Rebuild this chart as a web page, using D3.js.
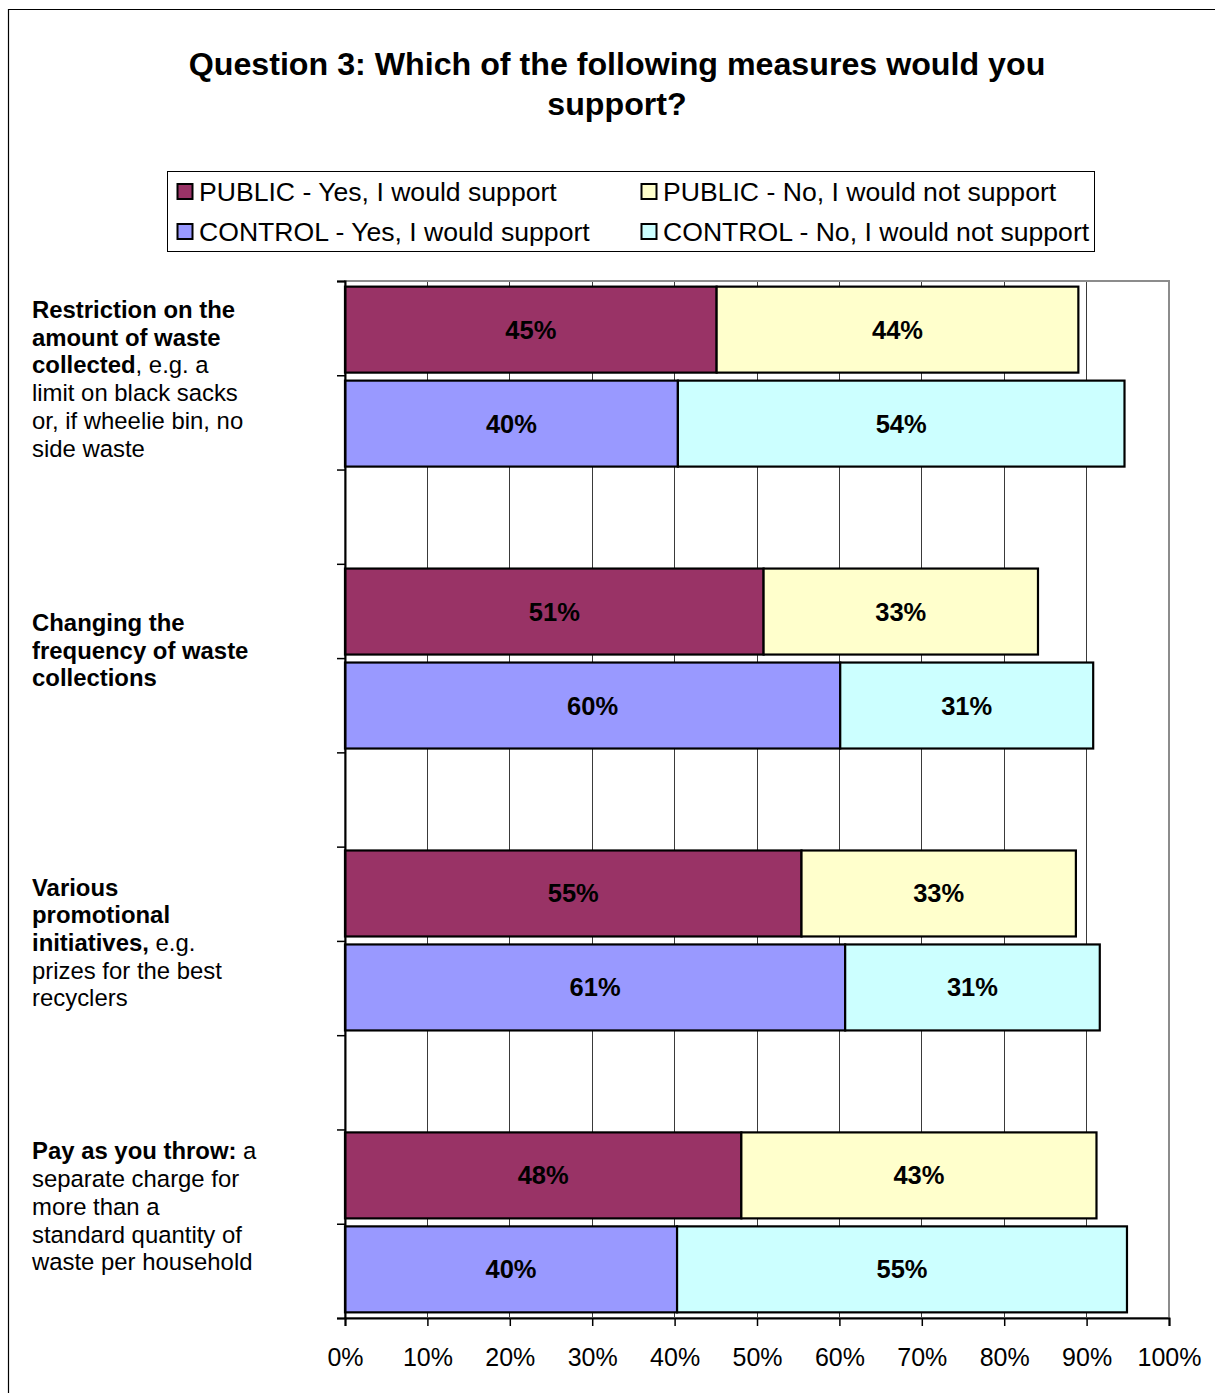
<!DOCTYPE html>
<html>
<head>
<meta charset="utf-8">
<script src="https://cdn.jsdelivr.net/npm/d3@7"></script>
<style>
  html, body { margin: 0; padding: 0; background: #fff; }
  svg { display: block; font-family: "Liberation Sans", Arial, sans-serif; }
</style>
</head>
<body>
<svg id="chart" width="1215" height="1393"></svg>
<script>
// Survey results: support for waste measures, public vs control sample (percent)
const titleLines = ["Question 3: Which of the following measures would you", "support?"];
const groups = ["PUBLIC", "CONTROL"];
const answers = ["Yes, I would support", "No, I would not support"];
const publicYes = [45.1, 50.8, 55.4, 48.1];
const publicNo = [43.9, 33.3, 33.3, 43.1];
const controlYes = [40.4, 60.1, 60.7, 40.3];
const controlNo = [54.2, 30.7, 30.9, 54.6];
const tickValues = [0, 10, 20, 30, 40, 50, 60, 70, 80, 90, 100];
// Category labels as lines of [text, bold] runs
const categoryLines = [
  [[["Restriction on the", true]], [["amount of waste", true]], [["collected", true], [", e.g. a", false]],
   [["limit on black sacks", false]], [["or, if wheelie bin, no", false]], [["side waste", false]]],
  [[["Changing the", true]], [["frequency of waste", true]], [["collections", true]]],
  [[["Various", true]], [["promotional", true]], [["initiatives,", true], [" e.g.", false]],
   [["prizes for the best", false]], [["recyclers", false]]],
  [[["Pay as you throw:", true], [" a", false]], [["separate charge for", false]], [["more than a", false]],
   [["standard quantity of", false]], [["waste per household", false]]]
];

const colors = {
  "PUBLIC|yes": "#993366", "PUBLIC|no": "#FFFFCC",
  "CONTROL|yes": "#9999FF", "CONTROL|no": "#CCFFFF"
};

const svg = d3.select("#chart");
const font = '"Liberation Sans", Arial, sans-serif';

// Outer chart frame
svg.append("path").attr("d", "M8.5,1393 V9.5 H1215").attr("fill", "none")
  .attr("stroke", "#000").attr("stroke-width", 1.2);

// Title
svg.append("g").selectAll("text").data(titleLines).join("text")
  .attr("x", 617).attr("y", (d, i) => 75 + i * 40)
  .attr("text-anchor", "middle").attr("font-size", 32.2).attr("font-weight", "bold")
  .text(d => d);

// Rows: PUBLIC, CONTROL, spacer for each category (no spacer after the last)
const rows = [];
publicYes.forEach((_, i) => {
  rows.push({cat: i, group: "PUBLIC", yes: publicYes[i], no: publicNo[i]});
  rows.push({cat: i, group: "CONTROL", yes: controlYes[i], no: controlNo[i]});
  if (i < publicYes.length - 1) rows.push({cat: i, spacer: true});
});
rows.forEach((r, i) => r.key = "r" + i);

const plot = {left: 345, right: 1169, top: 281, bottom: 1318};
const x = d3.scaleLinear().domain([0, 100]).range([plot.left, plot.right]);
const y = d3.scaleBand().domain(rows.map(r => r.key)).range([plot.top, plot.bottom])
  .paddingInner(0.085).paddingOuter(0.06);
const yEdge = d3.scaleLinear().domain([0, rows.length]).range([plot.top, plot.bottom]);

// Vertical gridlines
svg.append("g").selectAll("line").data(tickValues.slice(1, -1)).join("line")
  .attr("x1", d => x(d)).attr("x2", d => x(d))
  .attr("y1", plot.top).attr("y2", plot.bottom)
  .attr("stroke", "#3a3a3a").attr("stroke-width", 1).attr("shape-rendering", "crispEdges");

// Plot area border
svg.append("rect").attr("x", plot.left).attr("y", plot.top)
  .attr("width", plot.right - plot.left).attr("height", plot.bottom - plot.top)
  .attr("fill", "none").attr("stroke", "#8c8c8c").attr("stroke-width", 2);

// Stacked bars
const segs = [];
rows.filter(r => !r.spacer).forEach(r => {
  segs.push({row: r, kind: "yes", x0: 0, x1: r.yes, v: r.yes});
  segs.push({row: r, kind: "no", x0: r.yes, x1: r.yes + r.no, v: r.no});
});
const barG = svg.append("g");
barG.selectAll("rect").data(segs).join("rect")
  .attr("x", d => x(d.x0)).attr("width", d => x(d.x1) - x(d.x0))
  .attr("y", d => y(d.row.key)).attr("height", y.bandwidth())
  .attr("fill", d => colors[d.row.group + "|" + d.kind])
  .attr("stroke", "#000").attr("stroke-width", 2.2);
barG.selectAll("text").data(segs).join("text")
  .attr("x", d => (x(d.x0) + x(d.x1)) / 2)
  .attr("y", d => y(d.row.key) + y.bandwidth() / 2 + 9)
  .attr("text-anchor", "middle").attr("font-size", 25.5).attr("font-weight", "bold")
  .text(d => Math.round(d.v) + "%");

// X axis
const xAxis = svg.append("g").attr("transform", `translate(0,${plot.bottom})`)
  .call(d3.axisBottom(x).tickValues(tickValues).tickFormat(d => d + "%").tickSize(8).tickPadding(22));
xAxis.select(".domain").attr("stroke", "#000").attr("stroke-width", 2);
xAxis.selectAll(".tick line").attr("stroke", "#000").attr("stroke-width", 1.5);
xAxis.selectAll("text").attr("font-size", 25).attr("font-family", font).attr("fill", "#000");

// Y axis (row boundary ticks only)
const yAxis = svg.append("g").attr("transform", `translate(${plot.left},0)`)
  .call(d3.axisLeft(yEdge).tickValues(d3.range(rows.length + 1)).tickFormat("").tickSize(8));
yAxis.select(".domain").attr("stroke", "#000").attr("stroke-width", 2);
yAxis.selectAll(".tick line").attr("stroke", "#000").attr("stroke-width", 1.5);

// Category labels, placed relative to each category's PUBLIC row
const labelNudge = [29, 59, 41, 22];
const catG = svg.append("g");
categoryLines.forEach((lines, ci) => {
  const firstRow = rows.find(r => r.cat === ci && r.group === "PUBLIC");
  const top = yEdge(rows.indexOf(firstRow)) + labelNudge[ci];
  lines.forEach((runs, li) => {
    const t = catG.append("text").attr("x", 32).attr("y", top + li * 27.7 + 8)
      .attr("font-size", 23.9);
    runs.forEach(([txt, bold]) => {
      t.append("tspan").attr("font-weight", bold ? "bold" : "normal").text(txt);
    });
  });
});

// Legend
const legendItems = [
  {label: groups[0] + " - " + answers[0], key: "PUBLIC|yes", col: 0, row: 0},
  {label: groups[0] + " - " + answers[1], key: "PUBLIC|no", col: 1, row: 0},
  {label: groups[1] + " - " + answers[0], key: "CONTROL|yes", col: 0, row: 1},
  {label: groups[1] + " - " + answers[1], key: "CONTROL|no", col: 1, row: 1}
];
const lg = svg.append("g");
lg.append("rect").attr("x", 167.5).attr("y", 171.5).attr("width", 927).attr("height", 80)
  .attr("fill", "#fff").attr("stroke", "#000").attr("stroke-width", 1);
const colX = [177, 641];
const item = lg.selectAll("g.item").data(legendItems).join("g").attr("class", "item")
  .attr("transform", d => `translate(${colX[d.col]},${184 + d.row * 40})`);
item.append("rect").attr("x", 0.5).attr("y", 0).attr("width", 15).attr("height", 15)
  .attr("fill", d => colors[d.key]).attr("stroke", "#000").attr("stroke-width", 2);
item.append("text").attr("x", 22).attr("y", 17).attr("font-size", 26.6).text(d => d.label);
</script>
</body>
</html>
